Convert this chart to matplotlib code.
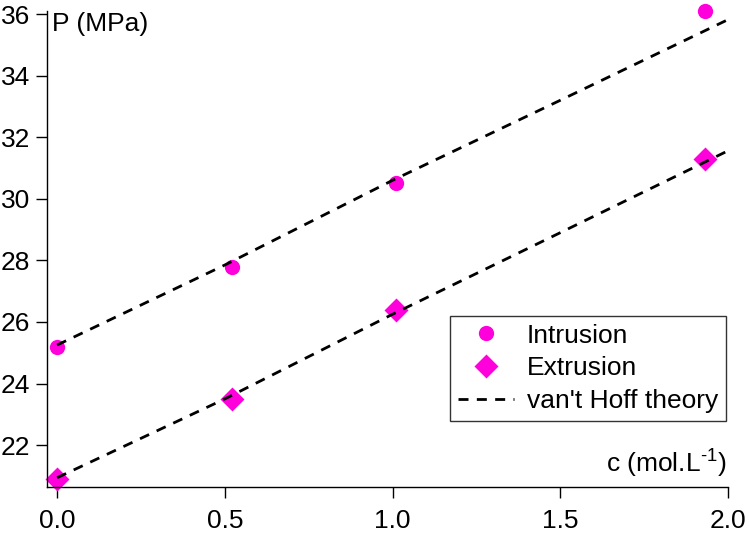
import matplotlib
matplotlib.use("Agg")
import matplotlib.pyplot as plt
from matplotlib.lines import Line2D

plt.rcParams['font.family'] = ['Liberation Sans', 'DejaVu Sans']
plt.rcParams['mathtext.fontset'] = 'custom'
plt.rcParams['mathtext.rm'] = 'Liberation Sans'
plt.rcParams['mathtext.it'] = 'Liberation Sans'

# data
c_exp = [0.0, 0.52, 1.01, 1.93]
p_intrusion = [25.2, 27.8, 30.5, 36.1]
p_extrusion = [20.9, 23.5, 26.4, 31.3]

c_theory = [0.0, 0.5, 1.0, 1.5, 2.0]
p_theory_intrusion = [25.25, 27.85, 30.6, 33.2, 35.82]
p_theory_extrusion = [20.94, 23.5, 26.25, 28.9, 31.56]

xticks = [0.0, 0.5, 1.0, 1.5, 2.0]
yticks = [22, 24, 26, 28, 30, 32, 34, 36]

col = '#ff00dd'
fs = 19

fig = plt.figure(figsize=(7.49, 5.37), dpi=100)
ax = fig.add_axes([47/749, 1-487/537, (728-47)/749, (487-11)/537])

dash = (3.6, 3.0)
ax.plot(c_theory, p_theory_intrusion, color='black', lw=2, dashes=dash, zorder=3)
ax.plot(c_theory, p_theory_extrusion, color='black', lw=2, dashes=dash, zorder=3)
ax.plot(c_exp, p_intrusion, 'o', color=col, markersize=11, mec='none', zorder=2, clip_on=False)
ax.plot(c_exp, p_extrusion, 'D', color=col, markersize=12.5, mec='none', zorder=2, clip_on=False)

ax.set_xlim(-0.03, 2.0)
ax.set_ylim(20.64, 36.1)
ax.set_xticks(xticks)
ax.set_xticklabels(['%.1f' % v for v in xticks])
ax.set_yticks(yticks)
for s in ['top', 'right']:
    ax.spines[s].set_visible(False)
for s in ['left', 'bottom']:
    ax.spines[s].set_linewidth(1)
ax.tick_params(axis='both', direction='out', length=8, width=1, labelsize=fs)
ax.tick_params(axis='x', pad=8)
ax.tick_params(axis='y', pad=4)

ax.text(0.008, 0.998, 'P (MPa)', transform=ax.transAxes, ha='left', va='top', fontsize=fs)
ax.text(0.998, 0.015, 'c (mol.L$^{\\text{-1}}$)', transform=ax.transAxes, ha='right', va='bottom', fontsize=fs)

handles = [
    Line2D([], [], marker='o', ls='none', color=col, markersize=11, mec='none'),
    Line2D([], [], marker='D', ls='none', color=col, markersize=12.5, mec='none'),
    Line2D([], [], color='black', lw=2, dashes=dash),
]
leg = ax.legend(handles, ['Intrusion', 'Extrusion', "van't Hoff theory"],
                loc='lower right', bbox_to_anchor=(726/749, 1-421/537), bbox_transform=fig.transFigure,
                fontsize=fs, frameon=True, fancybox=False, edgecolor='black',
                handlelength=2.1, handletextpad=0.5, borderpad=0.3, labelspacing=0.33,
                borderaxespad=0)
leg.get_frame().set_linewidth(1)

fig.savefig('out.png', dpi=100)
